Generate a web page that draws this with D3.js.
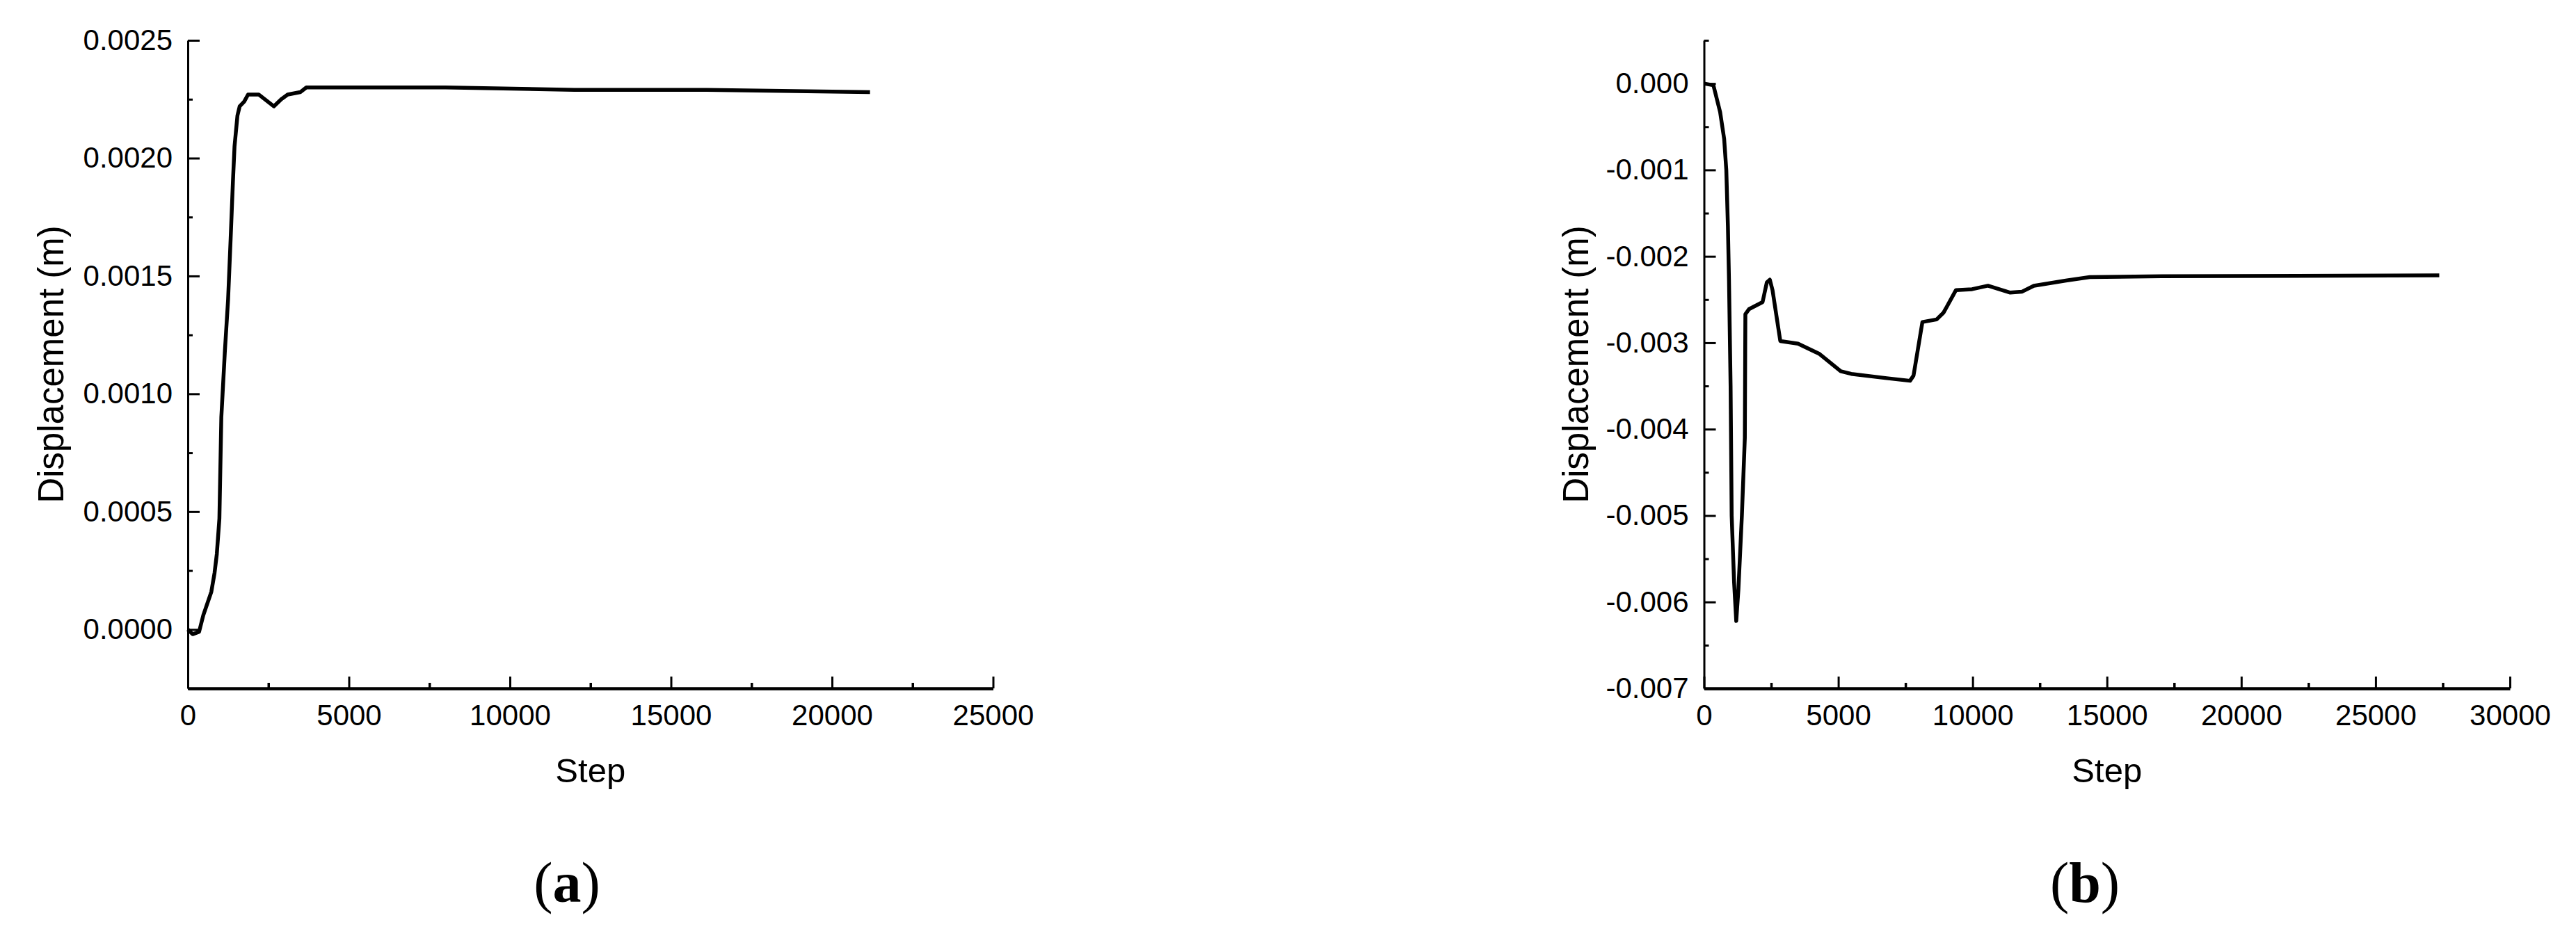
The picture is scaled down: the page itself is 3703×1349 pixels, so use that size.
<!DOCTYPE html>
<html>
<head>
<meta charset="utf-8">
<script src="https://cdn.jsdelivr.net/npm/d3@7"></script>
<style>
  body { margin: 0; background: #fff; }
  svg { display: block; }
</style>
</head>
<body>
<svg id="figure" width="3703" height="1349"></svg>
<script>

// panel (a): displacement vs step
const stepsA = [0, 150, 350, 480, 730, 830, 900, 980, 1040, 1150, 1250, 1330, 1400, 1450, 1540, 1610, 1750, 1870, 2200, 2670, 2900, 3100, 3490, 3680, 5000, 8000, 12000, 16000, 21180];
const dispA = [0, -0.00002, -0.00001, 0.00006, 0.00016, 0.00024, 0.00032, 0.00047, 0.0009, 0.00118, 0.0014, 0.00166, 0.0019, 0.00205, 0.00218, 0.00222, 0.00224, 0.00227, 0.00227, 0.00222, 0.00225, 0.00227, 0.00228, 0.0023, 0.0023, 0.0023, 0.00229, 0.00229, 0.00228];

// panel (b)
const stepsB = [0, 350, 600, 750, 830, 890, 930, 990, 1030, 1120, 1200, 1280, 1410, 1520, 1540, 1680, 2180, 2340, 2450, 2550, 2840, 3500, 4300, 5090, 5480, 6800, 7670, 7800, 8130, 8660, 8920, 9380, 9980, 10570, 11400, 11830, 12280, 13470, 14360, 17040, 27370];
const dispB = [0, -0.00002, -0.00033, -0.00064, -0.001, -0.00165, -0.00227, -0.0035, -0.005, -0.00577, -0.00622, -0.00586, -0.005, -0.0041, -0.00267, -0.00261, -0.00253, -0.0023, -0.00227, -0.00239, -0.00298, -0.00301, -0.00313, -0.00333, -0.00336, -0.00341, -0.00344, -0.00338, -0.00276, -0.00273, -0.00265, -0.00239, -0.00238, -0.00234, -0.00242, -0.00241, -0.00234, -0.00228, -0.00224, -0.00223, -0.00222];

// ticks
const xMajorA = [0, 5000, 10000, 15000, 20000, 25000];
const xMinorA = [2500, 7500, 12500, 17500, 22500];
const yMajorA = [0, 0.0005, 0.001, 0.0015, 0.002, 0.0025];
const yMinorA = [-0.00025, 0.00025, 0.00075, 0.00125, 0.00175, 0.00225];

const xMajorB = [0, 5000, 10000, 15000, 20000, 25000, 30000];
const xMinorB = [2500, 7500, 12500, 17500, 22500, 27500];
const yMajorB = [0, -0.001, -0.002, -0.003, -0.004, -0.005, -0.006, -0.007];
const yMinorB = [0.0005, -0.0005, -0.0015, -0.0025, -0.0035, -0.0045, -0.0055, -0.0065];

const locale = d3.formatLocale({decimal: ".", thousands: ",", grouping: [3], currency: ["", ""], minus: "-"});
const sans = "Arial, 'Liberation Sans', sans-serif";

class StepChart {

    constructor(_config) {
        this.config = _config;
        this.initVis();
    }

    initVis() {
        let vis = this;
        let c = vis.config;
        vis.svg = d3.select(c.parentElement);
        vis.chart = vis.svg.append("g");

        vis.x = d3.scaleLinear().domain(c.xDomain).range([c.left, c.right]);
        vis.y = d3.scaleLinear().domain(c.yDomain).range([c.bottom, c.top]);

        vis.renderAxes();
        vis.render();
    }

    renderAxes() {
        let vis = this;
        let c = vis.config;

        // minor ticks first, then major ticks with labels
        vis.chart.append("g")
            .attr("transform", `translate(0,${c.bottom})`)
            .call(d3.axisBottom(vis.x).tickValues(c.xMinor).tickFormat("").tickSize(-8).tickSizeOuter(0))
            .call(g => g.select(".domain").remove())
            .selectAll(".tick line").attr("stroke-width", 3.5);

        vis.chart.append("g")
            .attr("transform", `translate(${c.left},0)`)
            .call(d3.axisLeft(vis.y).tickValues(c.yMinor).tickFormat("").tickSize(-7).tickSizeOuter(0))
            .call(g => g.select(".domain").remove())
            .selectAll(".tick line").attr("stroke-width", 3);

        let xAxis = vis.chart.append("g")
            .attr("transform", `translate(0,${c.bottom})`)
            .call(d3.axisBottom(vis.x).tickValues(c.xMajor).tickFormat(d3.format("d"))
                .tickSize(-17).tickSizeOuter(0).tickPadding(23))
            .attr("font-size", 42)
            .attr("font-family", sans);
        xAxis.select(".domain").attr("stroke-width", 4.5);
        xAxis.selectAll(".tick line").attr("stroke-width", 3);
        xAxis.selectAll(".tick text").attr("fill", "#000");

        let yAxis = vis.chart.append("g")
            .attr("transform", `translate(${c.left},0)`)
            .call(d3.axisLeft(vis.y).tickValues(c.yMajor).tickFormat(locale.format(c.yFormat))
                .tickSize(-17).tickSizeOuter(0).tickPadding(22))
            .attr("font-size", 42)
            .attr("font-family", sans);
        yAxis.select(".domain").attr("stroke-width", 3);
        yAxis.selectAll(".tick line").attr("stroke-width", 3);
        yAxis.selectAll(".tick text").attr("fill", "#000");

        // axis titles
        vis.chart.append("text")
            .attr("x", (c.left + c.right) / 2)
            .attr("y", 1125)
            .attr("text-anchor", "middle")
            .attr("font-family", sans)
            .attr("font-size", 49)
            .text("Step");

        vis.chart.append("text")
            .attr("transform", `translate(${c.titleX},${(c.top + c.bottom) / 2}) rotate(-90)`)
            .attr("text-anchor", "middle")
            .attr("font-family", sans)
            .attr("font-size", 51)
            .text("Displacement (m)");

        // panel label
        let lab = vis.chart.append("text")
            .attr("x", c.labelX)
            .attr("y", 1297)
            .attr("text-anchor", "middle")
            .attr("font-family", "'Liberation Serif', 'Times New Roman', serif")
            .attr("font-size", 82);
        lab.append("tspan").text("(");
        lab.append("tspan").attr("font-weight", "bold").text(c.label);
        lab.append("tspan").text(")");
    }

    render() {
        let vis = this;
        let c = vis.config;
        let line = d3.line()
            .x(i => vis.x(c.steps[i]))
            .y(i => vis.y(c.values[i]));

        vis.chart.append("path")
            .datum(d3.range(c.steps.length))
            .attr("fill", "none")
            .attr("stroke", "#000")
            .attr("stroke-width", 5.5)
            .attr("stroke-linejoin", "round")
            .attr("d", line);
    }
}

new StepChart({
    parentElement: "#figure",
    left: 270, right: 1427.5, top: 58, bottom: 990,
    xDomain: [0, 25000], yDomain: [-0.00025, 0.0025],
    xMajor: xMajorA, xMinor: xMinorA, yMajor: yMajorA, yMinor: yMinorA,
    yFormat: ".4f", titleX: 91, labelX: 815, label: "a",
    steps: stepsA, values: dispA
});

new StepChart({
    parentElement: "#figure",
    left: 2449.5, right: 3608, top: 58, bottom: 990,
    xDomain: [0, 30000], yDomain: [-0.007, 0.0005],
    xMajor: xMajorB, xMinor: xMinorB, yMajor: yMajorB, yMinor: yMinorB,
    yFormat: ".3f", titleX: 2283, labelX: 2997, label: "b",
    steps: stepsB, values: dispB
});

</script>
</body>
</html>
